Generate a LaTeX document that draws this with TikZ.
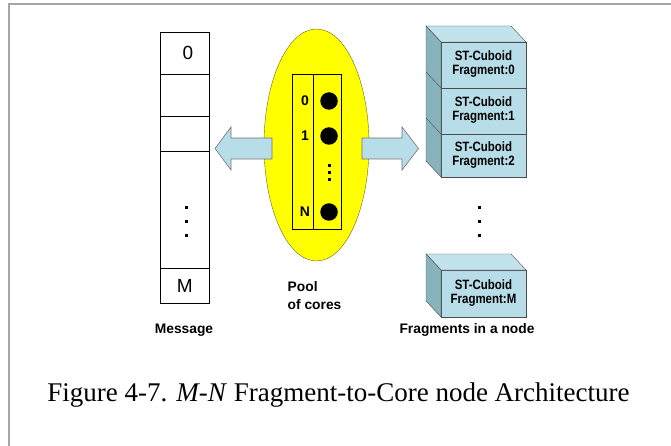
\documentclass[tikz,border=0pt]{standalone}
\usepackage{fontspec}
\setmainfont{Liberation Serif}
\newfontfamily\arial{Liberation Sans}
\usepackage{graphicx}
\usepackage{tikz}
\usetikzlibrary{shapes.geometric,positioning}

\definecolor{cubeblue}{RGB}{183,221,232}
\definecolor{sideblue}{RGB}{136,178,188}
\definecolor{topblue}{RGB}{194,227,236}
\definecolor{poolyellow}{RGB}{255,255,0}
\newcommand{\fragtext}[1]{\scalebox{0.85}[1]{\begin{tabular}{@{}c@{}}ST-Cuboid\\Fragment:#1\end{tabular}}}

\begin{document}
\begin{tikzpicture}[x=1pt,y=-1pt,
    cell/.style={draw,line width=0.8pt,minimum width=48.7pt,inner sep=0pt,outer sep=0pt,
      font=\fontsize{19}{19}\selectfont\arial},
    column/.style={draw,line width=0.8pt,minimum height=155pt,inner sep=0pt,outer sep=0pt},
    corenum/.style={font=\fontsize{14}{14}\selectfont\arial\bfseries,inner sep=0pt},
    core/.style={circle,fill=black,minimum size=17.5pt,inner sep=0pt},
    fragbox/.style={draw=black!70,fill=cubeblue,minimum width=85pt,inner sep=0pt,outer sep=0pt,
      font=\fontsize{13.5}{14}\selectfont\arial\bfseries},
    fatarrow/.style={draw=gray!90!black,fill=cubeblue,line width=0.6pt},
    lbl/.style={font=\fontsize{13.8}{18}\selectfont\arial\bfseries,inner sep=0pt}]
  \useasboundingbox (0,0) rectangle (671,446);
  \draw[gray!70,line width=1.5pt] (9,446) -- (9,4) -- (671,4);

  % message column
  \node[cell,minimum height=42pt] (msg0) at (184.85,53.3) {\hspace{6pt}0};
  \node[cell,minimum height=42.4pt,below=0pt of msg0] (msg1) {};
  \node[cell,minimum height=35pt,below=0pt of msg1] (msg2) {};
  \node[cell,minimum height=116.6pt,below=0pt of msg2] (msgdots) {};
  \node[cell,minimum height=35pt,below=0pt of msgdots] (msgM) {M};
  \foreach \y in {206,220,234}
    \fill (184.5,\y) rectangle ++(3,3);

  % pool of cores
  \node[ellipse,draw=olive!70!black,fill=poolyellow,minimum width=105pt,minimum height=232pt,
    inner sep=0pt] (pool) at (316.5,145) {};
  \node[column,minimum width=20.6pt] (ids) at (303,151.5) {};
  \node[column,minimum width=28.4pt,right=0pt of ids] (cores) {};
  \node[corenum] (id0) at (305,101) {0};
  \node[corenum] (id1) at (305,136) {1};
  \node[corenum] (idN) at (305,212) {N};
  \node[core] (core0) at (329,101) {};
  \node[core] (core1) at (329,136) {};
  \node[core] (coreN) at (329,212) {};
  \foreach \y in {164,171,178}
    \fill (327.5,\y) rectangle ++(3,3);

  % arrows
  \coordinate (ltip) at (215,148.5);
  \coordinate (rtip) at (418.5,148.5);
  \draw[fatarrow] (ltip) -- ++(16,-21.5) -- ++(0,11) -- ++(41,0) -- ++(0,21)
    -- ++(-41,0) -- ++(0,11) -- cycle;
  \draw[fatarrow] (rtip) -- ++(-16.5,-21.5) -- ++(0,11) -- ++(-40,0) -- ++(0,21)
    -- ++(40,0) -- ++(0,11) -- cycle;

  % fragments
  \node[fragbox,minimum height=46pt] (frag0) at (483.5,65) {\fragtext{0}};
  \node[fragbox,minimum height=46pt,below=0pt of frag0] (frag1) {\fragtext{1}};
  \node[fragbox,minimum height=43pt,below=0pt of frag1] (frag2) {\fragtext{2}};
  \node[fragbox,minimum height=47pt] (fragM) at (483.5,293.5) {\fragtext{M}};
  \foreach \t/\b in {frag0/frag2,fragM/fragM} {
    \filldraw[fill=topblue,draw=black!70] (\t.north west) -- ++(-15,-16) -- ++(85,0)
      -- (\t.north east) -- cycle;
    \filldraw[fill=sideblue,draw=black!70] (\t.north west) -- ++(-15,-16)
      -- ([xshift=-15pt,yshift=16pt]\b.south west) -- (\b.south west) -- cycle;
  }
  \foreach \f in {frag1,frag2}
    \draw[black!70] (\f.north west) -- ++(-15,-16);
  \foreach \y in {206,220,234}
    \fill (477.5,\y) rectangle ++(3,3);

  % labels
  \node[lbl] (msglbl) at (184,330) {Message};
  \node[lbl,align=left,anchor=west] (poollbl) at (287.5,296) {Pool\\of cores};
  \node[lbl] (fraglbl) at (467,330) {Fragments in a node};
  \node[font=\fontsize{27}{27}\selectfont] (caption) at (338.5,395)
    {Figure 4-7. \textit{M-N} Fragment-to-Core node Architecture};
\end{tikzpicture}
\end{document}
